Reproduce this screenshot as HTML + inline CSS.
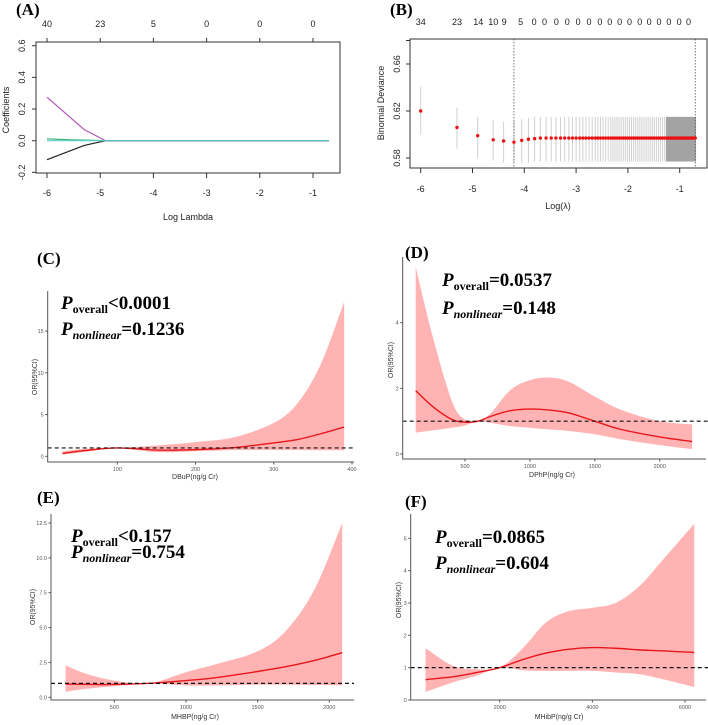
<!DOCTYPE html>
<html><head><meta charset="utf-8"><style>
html,body{margin:0;padding:0;background:#fff;}
svg{display:block;font-family:"Liberation Sans",sans-serif;}
.ser{font-family:"Liberation Serif",serif;font-weight:bold;}
</style></head><body>
<svg id="fig" width="708" height="725" viewBox="0 0 708 725" xmlns="http://www.w3.org/2000/svg"></svg>
<script>
// ---------- Panel A data ----------
const aTickX = [-6,-5,-4,-3,-2,-1];
const aTopLab = ['40','23','5','0','0','0'];
const aTickY = [-0.2,0.0,0.2,0.4,0.6];
const aPurpleX = [-6,-5.3,-4.9,-0.7];
const aPurpleY = [0.275,0.07,0.0,0.0];
const aBlackX = [-6,-5.3,-4.9,-0.7];
const aBlackY = [-0.12,-0.03,0.0,0.0];
const aGreenX = [-6,-5.6,-4.8];
const aGreenY = [0.012,0.006,0.0];
const aCyanX = [-6,-0.7];
const aCyanY = [0.0,0.0];
// ---------- Panel B data ----------
const bTickX = [-6,-5,-4,-3,-2,-1];
const bTickY = [0.58,0.62,0.66];
const bTopLog = [-6,-5.3,-4.89,-4.6,-4.39,-4.07,-3.81,-3.61,-3.38,-3.17,-2.96,-2.75,-2.54,-2.35,-2.16,-1.97,-1.77,-1.59,-1.40,-1.21,-1.01,-0.83];
const bTopLab = ['34','23','14','10','9','5','0','0','0','0','0','0','0','0','0','0','0','0','0','0','0','0'];
const bLog = [-6,-5.3,-4.9,-4.6,-4.4,-4.2,-4.05,-3.92,-3.8,-3.69,-3.58,-3.48,-3.39,-3.30,-3.22,-3.14,-3.07,-3.0,-2.93,-2.87,-2.81,-2.75,-2.69,-2.63,-2.58,-2.53,-2.48,-2.43,-2.38,-2.33,-2.29,-2.25,-2.21,-2.17,-2.13,-2.09,-2.05,-2.01,-1.97,-1.93,-1.89,-1.85,-1.81,-1.77,-1.73,-1.69,-1.65,-1.61,-1.57,-1.53,-1.49,-1.45,-1.41,-1.37,-1.33,-1.29,-1.25,-1.225,-1.2,-1.175,-1.15,-1.125,-1.1,-1.075,-1.05,-1.025,-1.0,-0.975,-0.95,-0.925,-0.9,-0.875,-0.85,-0.825,-0.8,-0.775,-0.75,-0.725,-0.7];
const bMean = [0.620,0.606,0.599,0.5955,0.5945,0.5935,0.595,0.596,0.5965,0.597,0.597,0.597,0.597,0.597,0.597,0.597,0.597,0.597,0.597,0.597,0.597,0.597,0.597,0.597,0.597,0.597,0.597,0.597,0.597,0.597,0.597,0.597,0.597,0.597,0.597,0.597,0.597,0.597,0.597,0.597,0.597,0.597,0.597,0.597,0.597,0.597,0.597,0.597,0.597,0.597,0.597,0.597,0.597,0.597,0.597,0.597,0.597,0.597,0.597,0.597,0.597,0.597,0.597,0.597,0.597,0.597,0.597,0.597,0.597,0.597,0.597,0.597,0.597,0.597,0.597,0.597,0.597,0.597,0.597];
const bLo = [0.600,0.588,0.580,0.578,0.576,0.576,0.576,0.576,0.577,0.577,0.577,0.577,0.577,0.577,0.577,0.577,0.577,0.577,0.577,0.577,0.577,0.577,0.577,0.577,0.577,0.577,0.577,0.577,0.577,0.577,0.577,0.577,0.577,0.577,0.577,0.577,0.577,0.577,0.577,0.577,0.577,0.577,0.577,0.577,0.577,0.577,0.577,0.577,0.577,0.577,0.577,0.577,0.577,0.577,0.577,0.577,0.577,0.577,0.577,0.577,0.577,0.577,0.577,0.577,0.577,0.577,0.577,0.577,0.577,0.577,0.577,0.577,0.577,0.577,0.577,0.577,0.577,0.577,0.577];
const bHi = [0.641,0.623,0.615,0.612,0.611,0.612,0.613,0.614,0.615,0.615,0.615,0.615,0.615,0.615,0.615,0.615,0.615,0.615,0.615,0.615,0.615,0.615,0.615,0.615,0.615,0.615,0.615,0.615,0.615,0.615,0.615,0.615,0.615,0.615,0.615,0.615,0.615,0.615,0.615,0.615,0.615,0.615,0.615,0.615,0.615,0.615,0.615,0.615,0.615,0.615,0.615,0.615,0.615,0.615,0.615,0.615,0.615,0.615,0.615,0.615,0.615,0.615,0.615,0.615,0.615,0.615,0.615,0.615,0.615,0.615,0.615,0.615,0.615,0.615,0.615,0.615,0.615,0.615,0.615];
const bVlines = [-4.2,-0.7];
// ---------- Panel C data ----------
const cX = [30,60,100,150,200,250,300,330,360,390];
const cFit = [0.35,0.7,1.0,0.75,0.8,1.05,1.6,2.0,2.7,3.5];
const cLow = [0.2,0.55,1.0,0.5,0.6,0.75,0.75,0.75,0.72,0.7];
const cHigh = [0.6,0.9,1.0,1.3,1.7,2.3,4.0,6.3,11.0,18.5];
const cTicksX = [100,200,300,400];
const cTicksY = [0,5,10,15];
// ---------- Panel D data ----------
const dX = [120,250,400,500,600,700,850,1000,1150,1300,1500,1700,2000,2250];
const dFit = [1.93,1.45,1.05,0.97,1.0,1.15,1.32,1.37,1.34,1.25,1.0,0.75,0.52,0.38];
const dLow = [0.65,0.72,0.8,0.87,1.0,0.95,0.85,0.8,0.75,0.7,0.6,0.45,0.27,0.15];
const dHigh = [5.7,3.6,1.6,1.05,1.0,1.25,1.95,2.25,2.33,2.2,1.75,1.35,1.0,0.9];
const dTicksX = [500,1000,1500,2000];
const dTicksY = [0,2,4];
// ---------- Panel E data ----------
const eX = [160,300,500,740,1000,1200,1500,1700,1900,2090];
const eFit = [0.95,0.93,0.92,1.0,1.2,1.4,1.85,2.2,2.65,3.2];
const eLow = [0.4,0.6,0.8,1.0,0.85,0.85,0.9,0.9,0.88,0.85];
const eHigh = [2.3,1.7,1.2,1.0,1.8,2.35,3.3,4.8,7.8,12.5];
const eTicksX = [500,1000,1500,2000];
const eTicksY = [0,2.5,5,7.5,10,12.5];
// ---------- Panel F data ----------
const fX = [400,1000,1500,2000,2500,3000,3500,4000,4500,5000,5500,6200];
const fFit = [0.63,0.72,0.85,1.0,1.25,1.45,1.57,1.62,1.6,1.55,1.52,1.47];
const fLow = [0.25,0.55,0.75,1.0,0.92,0.9,0.9,0.9,0.85,0.8,0.65,0.4];
const fHigh = [1.6,1.05,0.95,1.0,1.6,2.4,2.75,2.85,3.0,3.5,4.3,5.45];
const fTicksX = [2000,4000,6000];
const fTicksY = [0,1,2,3,4,5];

const NS='http://www.w3.org/2000/svg';
const svg=document.getElementById('fig');
function el(tag,attrs,parent){const e=document.createElementNS(NS,tag);for(const k in attrs)e.setAttribute(k,attrs[k]);(parent||svg).appendChild(e);return e;}
function txt(s,attrs,parent){const e=el('text',attrs,parent);e.textContent=s;return e;}
function lin(d0,d1,r0,r1){return v=>r0+(v-d0)/(d1-d0)*(r1-r0);}
function pathLine(pts){return 'M'+pts.map(p=>p[0].toFixed(2)+','+p[1].toFixed(2)).join('L');}
function smooth(pts){let d='M'+pts[0][0]+','+pts[0][1];for(let i=0;i<pts.length-1;i++){const p0=pts[i-1]||pts[i],p1=pts[i],p2=pts[i+1],p3=pts[i+2]||p2;const c1=[p1[0]+(p2[0]-p0[0])/6,p1[1]+(p2[1]-p0[1])/6],c2=[p2[0]-(p3[0]-p1[0])/6,p2[1]-(p3[1]-p1[1])/6];d+='C'+c1[0].toFixed(2)+','+c1[1].toFixed(2)+' '+c2[0].toFixed(2)+','+c2[1].toFixed(2)+' '+p2[0].toFixed(2)+','+p2[1].toFixed(2);}return d;}
function smoothCont(pts){return smooth(pts).replace(/^M/,'L');}

// ===== Panel A =====
(function(){
const g=el('g',{});


const X=lin(-6,-1,47,313), Y=lin(0,0.6,140.7,45.7);
const l=txt('(A)',{x:16,y:15,'font-size':17,class:'ser'},g);

const box=el('rect',{x:36,y:42,width:304,height:131,fill:'none',stroke:'#333','stroke-width':1},g);

aTickX.forEach((v,i)=>{const x=X(v);
 el('line',{x1:x,y1:173,x2:x,y2:178,stroke:'#333'},g);
 const t=txt(String(v),{x:x,y:196,'font-size':9,'text-anchor':'middle',fill:'#222'},g);
 
 el('line',{x1:x,y1:42,x2:x,y2:38,stroke:'#333'},g);
 const tt=txt(aTopLab[i],{x:x,y:27,'font-size':9,'text-anchor':'middle',fill:'#222'},g);
 });
aTickY.forEach(v=>{const y=Y(v);el('line',{x1:36,y1:y,x2:32,y2:y,stroke:'#333'},g);
 const t=txt(v.toFixed(1),{x:0,y:0,'font-size':9,'text-anchor':'middle',fill:'#222',transform:`translate(25,${y}) rotate(-90)`},g);
 });
const yt=txt('Coefficients',{x:0,y:0,'font-size':9,'text-anchor':'middle',fill:'#222',transform:'translate(9,110) rotate(-90)'},g);

const xt=txt('Log Lambda',{x:188,y:220,'font-size':9,'text-anchor':'middle',fill:'#222'},g);

[[aGreenX,aGreenY,'#3cb371'],[aPurpleX,aPurpleY,'#b05bb8'],[aBlackX,aBlackY,'#222'],[aCyanX,aCyanY,'#5ecfcf']].forEach(s=>{
 const p=el('path',{d:pathLine(s[0].map((v,i)=>[X(v),Y(s[1][i])])),fill:'none',stroke:s[2],'stroke-width':1.2},g);
 });
})();

// ===== Panel B =====
(function(){
const g=el('g',{});


const X=lin(-6,-1,420.7,679.7), Y=lin(0.58,0.66,158,64);
const l=txt('(B)',{x:390,y:15,'font-size':17,class:'ser'},g);

bLog.forEach((v,i)=>{const x=X(v);
 const e=el('line',{x1:x,y1:Y(bLo[i]),x2:x,y2:Y(bHi[i]),stroke:v>-1.27?'#a3a3a3':'#d0d0d0','stroke-width':v>-1.27?1.6:1},g);
 });
bVlines.forEach(v=>{const e=el('line',{x1:X(v),y1:39,x2:X(v),y2:168,stroke:'#555','stroke-width':0.8,'stroke-dasharray':'1.5,1.5'},g);
 });
bLog.forEach((v,i)=>{const c=el('circle',{cx:X(v),cy:Y(bMean[i]),r:1.7,fill:'#ee1111'},g);
 });
const box=el('rect',{x:410,y:39,width:297,height:129,fill:'none',stroke:'#333','stroke-width':1},g);

bTickX.forEach(v=>{const x=X(v);el('line',{x1:x,y1:168,x2:x,y2:173,stroke:'#333'},g);
 const t=txt(String(v),{x:x,y:192,'font-size':9,'text-anchor':'middle',fill:'#222'},g);
 });
bTickY.forEach(v=>{const y=Y(v);el('line',{x1:410,y1:y,x2:406,y2:y,stroke:'#333'},g);
 const t=txt(v.toFixed(2),{x:0,y:0,'font-size':9,'text-anchor':'middle',fill:'#222',transform:`translate(400,${y}) rotate(-90)`},g);
 });
el('line',{x1:410,y1:Y(0.68),x2:406,y2:Y(0.68),stroke:'#333'},g);
bTopLog.forEach((v,i)=>{const t=txt(bTopLab[i],{x:X(v),y:25,'font-size':9,'text-anchor':'middle',fill:'#222'},g);
 });
const yt=txt('Binomial Deviance',{x:0,y:0,'font-size':9,'text-anchor':'middle',fill:'#222',transform:'translate(384,103) rotate(-90)'},g);

const xt=txt('Log(λ)',{x:558,y:209,'font-size':9,'text-anchor':'middle',fill:'#222'},g);

})();

// ===== RCS panels =====
function rcs(o){
 const g=el('g',{});
 
 
 const X=lin(o.xd[0],o.xd[1],o.xr[0],o.xr[1]), Y=lin(o.yd[0],o.yd[1],o.yr[0],o.yr[1]);
 const up=o.x.map((v,i)=>[X(v),Y(o.high[i])]), lo=o.x.map((v,i)=>[X(v),Y(o.low[i])]).reverse();
 const band=el('path',{d:smooth(up)+smoothCont(lo)+'Z',fill:'#ffb3b3',stroke:'none'},g);
 
 const ln=el('path',{d:smooth(o.x.map((v,i)=>[X(v),Y(o.fit[i])])),fill:'none',stroke:'#e8161b','stroke-width':1.4},g);
 
 const ref=el('line',{x1:o.left,y1:Y(1),x2:o.refEnd,y2:Y(1),stroke:'#111','stroke-width':1.2,'stroke-dasharray':'4,3'},g);
 
 const ax=el('path',{d:`M${o.left},${o.top}V${o.bottom}H${o.axEnd}`,fill:'none',stroke:'#555','stroke-width':1},g);
 
 o.tx.forEach(v=>{const x=X(v);el('line',{x1:x,y1:o.bottom,x2:x,y2:o.bottom+2.5,stroke:'#555'},g);
  const t=txt(String(v),{x:x,y:o.bottom+9,'font-size':5.5,'text-anchor':'middle',fill:'#555'},g);
  });
 o.ty.forEach(v=>{const y=Y(v);el('line',{x1:o.left,y1:y,x2:o.left-2.5,y2:y,stroke:'#555'},g);
  const t=txt(o.tyFmt?o.tyFmt(v):String(v),{x:o.left-4,y:y+2,'font-size':5.5,'text-anchor':'end',fill:'#555'},g);
  });
 const xt=txt(o.xlab,{x:o.xlx,y:o.xly,'font-size':7,'text-anchor':'middle',fill:'#333'},g);
 
 const yt=txt('OR(95%CI)',{x:0,y:0,'font-size':7,'text-anchor':'middle',fill:'#333',transform:`translate(${o.ylx},${o.yly}) rotate(-90)`},g);
 
 const pl=txt(o.panel,{x:o.plx,y:o.ply,'font-size':17,class:'ser'},g);
 
 [[ 'overall',o.p1,o.b1,'normal'],['nonlinear',o.p2,o.b2,'italic']].forEach(r=>{
  const t=el('text',{x:o.px,y:r[2],class:'ser','font-size':19,fill:'#000'},g);
  
  const a=el('tspan',{'font-style':'italic'},t);a.textContent='P';
  const b=el('tspan',{'font-size':12,dy:4,'font-style':r[3]},t);b.textContent=r[0];
  const c=el('tspan',{dy:-4},t);c.textContent=r[1];
 });
}
rcs({name:'panel-c-dbup',panel:'(C)',x:cX,fit:cFit,low:cLow,high:cHigh,xd:[100,400],xr:[117.3,352],yd:[0,15],yr:[456.3,331],
 left:47.7,top:291,bottom:462,axEnd:354,refEnd:354,tx:cTicksX,ty:cTicksY,xlab:'DBuP(ng/g Cr)',xlx:195,xly:479,ylx:37,yly:377,
 plx:37,ply:264,px:61,p1:'<0.0001',p2:'=0.1236',b1:309,b2:335});
rcs({name:'panel-d-dphp',panel:'(D)',x:dX,fit:dFit,low:dLow,high:dHigh,xd:[500,2000],xr:[465,659.7],yd:[0,4],yr:[454,322.7],
 left:402.7,top:257,bottom:459,axEnd:706,refEnd:708,tx:dTicksX,ty:dTicksY,xlab:'DPhP(ng/g Cr)',xlx:552,xly:477,ylx:393,yly:360,
 plx:405,ply:258,px:442,p1:'=0.0537',p2:'=0.148',b1:286,b2:314});
rcs({name:'panel-e-mhbp',panel:'(E)',x:eX,fit:eFit,low:eLow,high:eHigh,xd:[500,2000],xr:[114.3,329.3],yd:[0,12.5],yr:[697.3,523],
 left:51,top:514,bottom:700,axEnd:354,refEnd:354,tx:eTicksX,ty:eTicksY,tyFmt:v=>v.toFixed(1),xlab:'MHBP(ng/g Cr)',xlx:195,xly:719,ylx:35,yly:607,
 plx:37,ply:503,px:71,p1:'<0.157',p2:'=0.754',b1:542,b2:558});
rcs({name:'panel-f-mhibp',panel:'(F)',x:fX,fit:fFit,low:fLow,high:fHigh,xd:[2000,6000],xr:[499.7,685],yd:[0,5],yr:[700,538.3],
 left:410.7,top:514,bottom:700,axEnd:706,refEnd:708,tx:fTicksX,ty:fTicksY,xlab:'MHibP(ng/g Cr)',xlx:559,xly:719,ylx:401,yly:600,
 plx:405,ply:507,px:435,p1:'=0.0865',p2:'=0.604',b1:543,b2:569});
</script>
</body></html>
